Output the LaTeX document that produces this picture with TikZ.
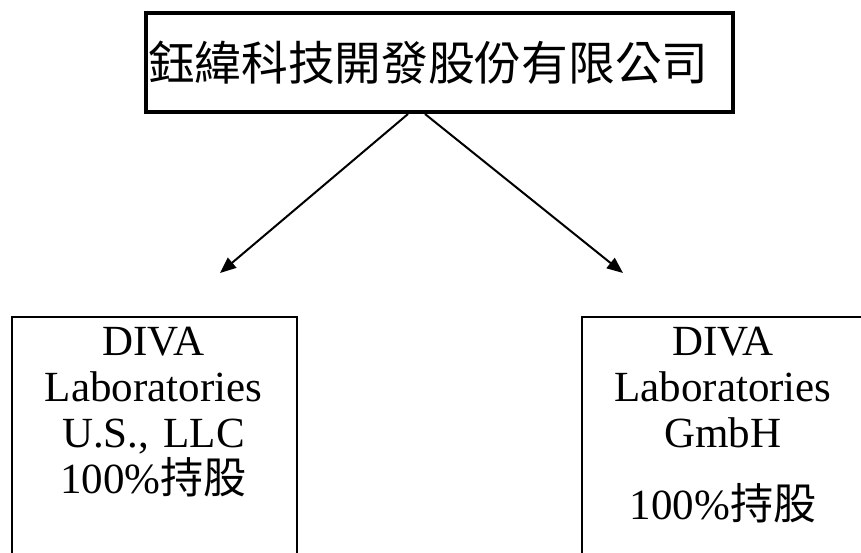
\documentclass[tikz,border=0pt]{standalone}
\usepackage{fontspec}
\setmainfont{Liberation Serif}
\newfontfamily\cjk{Noto Sans CJK TC}
\usepackage{tikz}
\usetikzlibrary{arrows.meta}
\tikzstyle{parent}=[%
      rectangle, draw=black, line width=4pt, fill=none,
      minimum width=587pt, minimum height=99pt, inner xsep=2pt, inner ysep=0pt,
      text width=583pt, align=left, font=\fontsize{46.7}{50}\selectfont\cjk
]
\tikzstyle{sub}=[%
      rectangle, draw=black, line width=2pt, fill=none,
      minimum height=260pt, inner sep=0pt, anchor=north west
]
\tikzstyle{subtext}=[%
      text width=280pt, align=center, inner sep=0pt, anchor=base,
      font=\fontsize{43}{46}\selectfont
]
\begin{document}
\begin{tikzpicture}[x=1pt, y=-1pt,
    -{Triangle[length=16pt,width=13pt]}
  ]
    \useasboundingbox (0,0) rectangle (861,552);
    \node[parent]             (top)  at (439.5,62.5) {鈺緯科技開發股份有限公司};
    \node[sub, minimum width=285pt] (us)   at (11,316)  {};
    \node[sub, minimum width=300pt] (de)   at (581,316) {};
    \node[subtext]            (ustext) at (153.5,355) {DIVA\\Laboratories\\U.S., LLC\\100\%{\cjk 持股}};
    \node[subtext]            (detext) at (723,355)   {DIVA\\Laboratories\\GmbH\\[26pt]100\%{\cjk 持股}};

    \coordinate (usTip) at (220,273);
    \coordinate (deTip) at (623,273);

    \path[line width=2pt]
          ([xshift=-31.5pt]top.south) edge (usTip)
          ([xshift=-14.5pt]top.south) edge (deTip)
    ;

  \end{tikzpicture}
\end{document}
